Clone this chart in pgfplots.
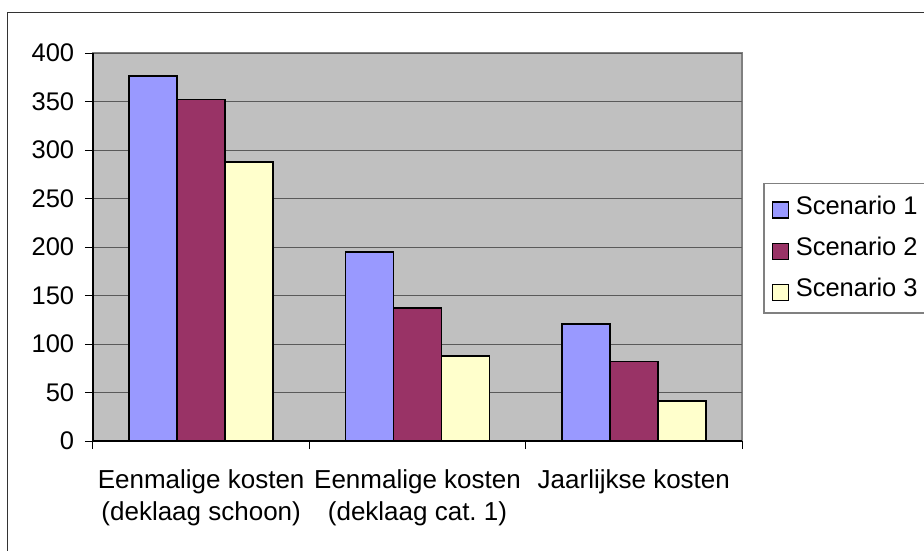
\documentclass[border=0pt]{standalone}
\usepackage{pgfplots}
\pgfplotsset{compat=1.18}
\usepackage{fontspec}
\setmainfont{Liberation Sans}

\definecolor{sone}{HTML}{9999FF}
\definecolor{stwo}{HTML}{993366}
\definecolor{sthree}{HTML}{FFFFCC}
\definecolor{plotbg}{HTML}{C0C0C0}
\definecolor{gridgray}{HTML}{5A5A5A}
\definecolor{framegray}{HTML}{808080}

\pgfplotsset{
  sqlegend/.style={legend image code/.code={%
    \path[draw=none,fill=none] (0pt,0pt) -- (24pt,0pt);
    \draw[##1,draw=black,line width=1.3pt] (3pt,-11pt) rectangle (19pt,5pt);}},
}

\begin{document}
\begin{tikzpicture}[x=1pt,y=1pt]
  \fontsize{26}{32}\selectfont
  % chart area frame
  \draw[black!80,line width=1.5pt] (7.5,-20) -- (7.5,537.7) -- (950,537.7);

  \begin{axis}[
    at={(93pt,109pt)}, anchor=south west,
    scale only axis, width=649pt, height=388pt,
    xmin=-0.5, xmax=2.5, ymin=0, ymax=400,
    ybar=0pt, bar width=48pt,
    axis background/.style={fill=plotbg, draw=framegray, line width=2pt},
    axis lines*=left,
    axis line style={black, line width=1.3pt},
    tick align=outside,
    major tick length=8pt,
    tick style={black, line width=1pt},
    ytick={0,50,...,400},
    ymajorgrids,
    major grid style={draw=gridgray, line width=1pt},
    % group boundaries carry the tick marks, group centres the names
    xtick={-0.5,0.5,1.5,2.5},
    xticklabels={},
    extra x ticks={0,1,2},
    extra x tick labels={{Eenmalige kosten\\(deklaag schoon)},
                 {Eenmalige kosten\\(deklaag cat.\ 1)},
                 {Jaarlijkse kosten}},
    extra x tick style={major tick length=0pt,
      xticklabel style={align=center, anchor=north, yshift=-20pt,
        font=\fontsize{26}{32}\selectfont}},
    yticklabel style={font=\fontsize{25.5}{31.5}\selectfont, xshift=-2pt},
    /pgf/number format/assume math mode=true,
    legend style={at={(1.0324,0.665)}, anchor=north west,
      draw=framegray, line width=1.5pt, fill=white,
      font=\fontsize{25.5}{31.5}\selectfont,
      row sep=15pt, inner xsep=6pt, inner ysep=10pt},
    legend cell align=left,
  ]
    \addplot[fill=sone, draw=black, line width=1.8pt, sqlegend]
      coordinates {(0,376) (1,195) (2,121)};
    \addplot[fill=stwo, draw=black, line width=1.8pt, sqlegend]
      coordinates {(0,352) (1,137) (2,82)};
    \addplot[fill=sthree, draw=black, line width=1.8pt, sqlegend]
      coordinates {(0,288) (1,88) (2,41)};
    \legend{Scenario 1,Scenario 2,Scenario 3}
  \end{axis}

  \pgfresetboundingbox
  \path[use as bounding box] (0,0) rectangle (924,550);
\end{tikzpicture}
\end{document}
